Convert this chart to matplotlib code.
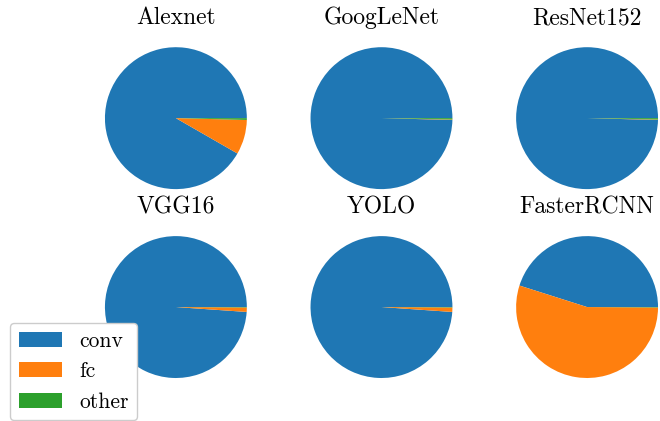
import matplotlib
matplotlib.use("Agg")
import matplotlib.pyplot as plt

networks = ['Alexnet', 'GoogLeNet', 'ResNet152', 'VGG16', 'YOLO', 'FasterRCNN']
labels = ['conv', 'fc', 'other']
conv = [91.7, 99.6, 99.6, 98.9, 98.9, 45.1]
fc = [7.9, 0.1, 0.1, 1.0, 1.0, 54.8]
other = [0.4, 0.3, 0.3, 0.1, 0.1, 0.1]
colors = ['#1f77b4', '#ff7f0e', '#2ca02c']

plt.rcParams['font.family'] = ['cmr10', 'DejaVu Serif']
plt.rcParams['axes.formatter.use_mathtext'] = True

def main():
    fig, axes = plt.subplots(2, 3, figsize=(6.6, 4.21), dpi=100)
    plt.subplots_adjust(left=0.132, right=1.024, bottom=0.06, top=0.93,
                        wspace=0.158, hspace=0.065)

    for i, ax in enumerate(axes.flat):
        vals = [conv[i], fc[i], other[i]]
        wedges, _ = ax.pie(vals, colors=colors)
        ax.set_title(networks[i], fontsize=17, pad=-3)

    fig.legend(wedges, labels, loc='upper left', bbox_to_anchor=(0.0152, 0.2328),
               borderaxespad=0, fontsize=15.5, framealpha=1)
    fig.savefig('out.png', dpi=100)

if __name__ == "__main__":
    main()
